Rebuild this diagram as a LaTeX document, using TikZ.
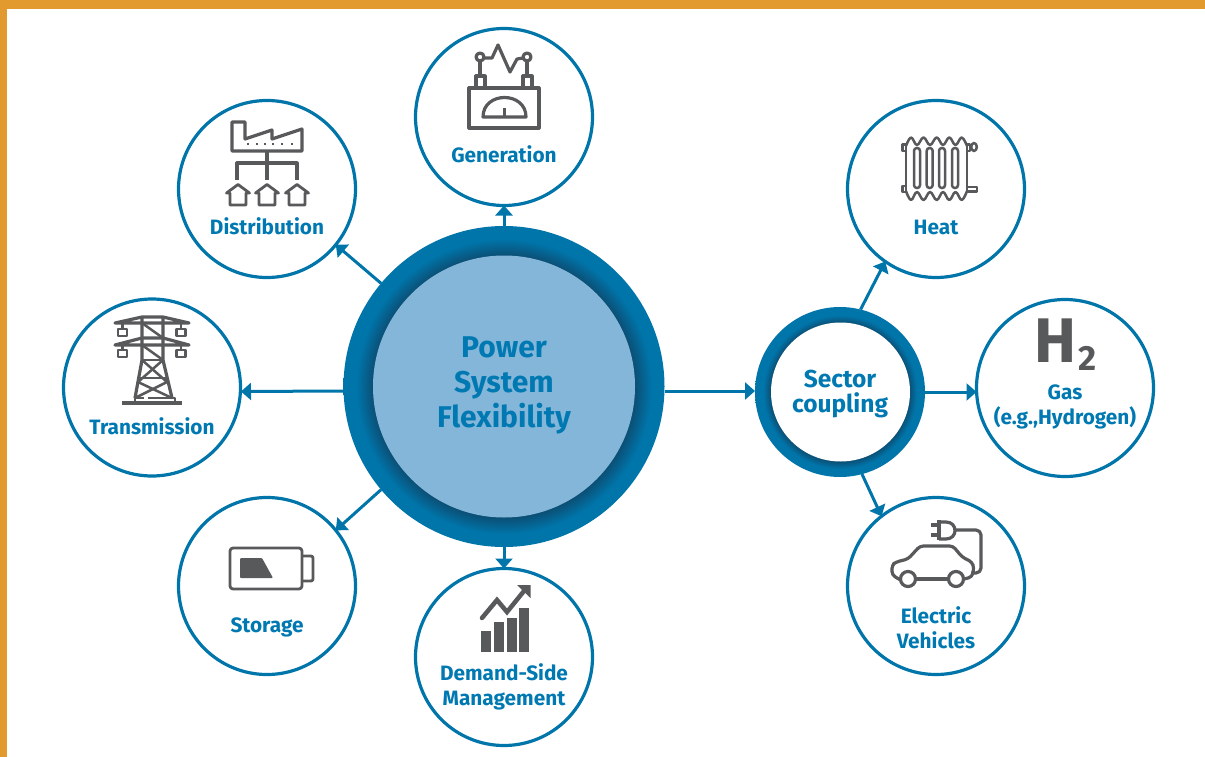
\documentclass[tikz,border=0pt]{standalone}
\usepackage{fontspec}
\setmainfont{Fira Sans}
\usetikzlibrary{arrows.meta}
\definecolor{ringblue}{HTML}{0075AA}
\definecolor{darkblue}{HTML}{0B4F75}
\definecolor{txtblue}{HTML}{0079B2}
\definecolor{paleblue}{HTML}{84B6D9}
\definecolor{band}{HTML}{E29A2F}
\definecolor{icon}{HTML}{58595B}
\pgfdeclareradialshading{mainring}{\pgfpoint{0bp}{0bp}}{color(0bp)=(darkblue);color(20.4bp)=(darkblue);color(23bp)=(ringblue);color(25bp)=(ringblue);color(50bp)=(ringblue)}
\pgfdeclareradialshading{sectorring}{\pgfpoint{0bp}{0bp}}{color(0bp)=(darkblue);color(20.4bp)=(darkblue);color(22.6bp)=(ringblue);color(25bp)=(ringblue);color(50bp)=(ringblue)}
\tikzset{
  topic/.style={circle,draw=ringblue,fill=white,line width=3.2pt,minimum size=177pt,inner sep=0pt,outer sep=0pt},
  lbl/.style={anchor=base,inner sep=0pt,text=txtblue,font=\fontsize{20.8}{24}\selectfont\bfseries},
  biglbl/.style={anchor=base,inner sep=0pt,text=txtblue,font=\fontsize{30}{34}\selectfont\bfseries},
  seclbl/.style={anchor=base,inner sep=0pt,text=txtblue,font=\fontsize{24.5}{28}\selectfont\bfseries},
  arr/.style={draw=ringblue,line width=3pt,-{Triangle[length=10pt,width=17pt]}},
  ic/.style={draw=icon,line width=3.2pt,line join=round},
  icthin/.style={draw=icon,line width=2.5pt,line join=round},
}
\begin{document}
\begin{tikzpicture}[x=1pt,y=-1pt]
\useasboundingbox (0,0) rectangle (1205,757);
\fill[white] (0,0) rectangle (1205,757);
\fill[band] (0,0) rectangle (1205,9);
\fill[band] (0,0) rectangle (7,757);

% hubs
\node[circle,minimum size=321pt,inner sep=0pt,outer sep=0pt,shading=mainring] (main) at (504,386.5) {};
\node[circle,minimum size=262pt,inner sep=0pt,outer sep=0pt,fill=paleblue] (maininner) at (504,386.5) {};
\node[circle,minimum size=170pt,inner sep=0pt,outer sep=0pt,shading=sectorring] (sector) at (840,392) {};
\node[circle,minimum size=139pt,inner sep=0pt,outer sep=0pt,fill=white] (sectorinner) at (840.5,392) {};

% topic circles
\node[topic] (gen) at (504,117) {};
\node[topic] (dist) at (267,189) {};
\node[topic] (trans) at (152,387.5) {};
\node[topic] (stor) at (267,586) {};
\node[topic] (dsm) at (504,657) {};
\node[topic] (heat) at (936,189) {};
\node[topic] (gas) at (1065,388) {};
\node[topic] (ev) at (936,586) {};

% connectors
\draw[arr] (main.90) -- (gen.270);
\draw[arr] (main.140) -- (dist.-39.5);
\draw[arr] ([yshift=-4.5pt]main.west) -- ([xshift=.5pt,yshift=-4pt]trans.east);
\draw[arr] (main.220) -- (stor.39.5);
\draw[arr] (main.270) -- (dsm.90);
\draw[arr] ([yshift=-4.5pt]main.east) -- ([yshift=1pt]sector.west);
\draw[arr] (sector.76) -- (heat.235);
\draw[arr] (sector.east) -- ([yshift=-4pt]gas.west);
\draw[arr] (sector.-75) -- (ev.128);

% labels
\node[biglbl] (t1) at (504,357) {Power};
\node[biglbl] (t2) at (504,392) {System};
\node[biglbl] (t3) at (504,427.5) {Flexibility};
\node[seclbl] (s1) at (840,387) {Sector};
\node[seclbl] (s2) at (840,412) {coupling};
\node[lbl] (l1) at (504,163) {Generation};
\node[lbl] (l2) at (267,234) {Distribution};
\node[lbl] (l3) at (152,434) {Transmission};
\node[lbl] (l4) at (267,632) {Storage};
\node[lbl] (l5) at (504,680) {Demand-Side};
\node[lbl] (l6) at (504,705) {Management};
\node[lbl] (l7) at (936,234) {Heat};
\node[lbl] (l8) at (1065,399) {Gas};
\node[lbl] (l9) at (1065,424) {(e.g.,Hydrogen)};
\node[lbl] (l10) at (936,623) {Electric};
\node[lbl] (l11) at (936,648) {Vehicles};

% Generation icon
\draw[ic] (469,88) rectangle (539,128);
\draw[ic] (483,117) .. controls (483,91) and (526,91) .. (526,117) -- cycle;
\draw[ic] (504.5,117) -- (504.5,108);
\draw[ic] (476,88) -- (476,76) -- (485,76) -- (485,88);
\draw[ic] (523,88) -- (523,76) -- (532,76) -- (532,88);
\draw[ic] (480,57) circle[radius=4];
\draw[ic] (527,57) circle[radius=4];
\draw[ic] (480,61) -- (480,76);
\draw[ic] (527,61) -- (527,76);
\draw[ic] (484,58) -- (492,58) -- (498,45) -- (510,72) -- (517,59) -- (523,58);

% Distribution icon
\draw[ic] (232,122) -- (245,122) -- (245,139) -- (272,130) -- (272,139) -- (302,129) -- (302,151) -- (232,151) -- cycle;
\foreach \dx in {248,257,265,273,282,292} \fill[icon] (\dx-1.4,142.6) rectangle (\dx+1.4,145.4);
\draw[ic] (267,151) -- (267,180);
\draw[ic] (237,180) -- (237,163) -- (297,163) -- (297,180);
\foreach \hx in {238,267,297}
  \draw[icthin,line width=2.8pt] (\hx-11.5,193) -- (\hx,184.5) -- (\hx+11.5,193) -- (\hx+8,193) -- (\hx+8,205) -- (\hx-8,205) -- (\hx-8,193) -- cycle;

% Transmission icon
\draw[ic] (122,403) -- (182,403);
\draw[icthin] (135,403) -- (135,398) -- (144,398);
\draw[icthin] (148,398) -- (175,398) -- (175,403);
\draw[ic] (142,317) -- (142,360) -- (135,398);
\draw[ic] (163,317) -- (163,360) -- (172,398);
\draw[ic] (115,323) -- (142,317) -- (163,317) -- (189,323) -- cycle;
\draw[ic] (115,345) -- (142,338) -- (163,338) -- (189,345) -- cycle;
\draw[icthin] (142,323) -- (163,338);
\draw[icthin] (142,345) -- (163,360);
\draw[icthin] (142,360) -- (167,382) -- (135,398);
\draw[icthin] (163,360) -- (138,382) -- (172,398);
\draw[icthin] (139,378) -- (166,378);
\draw[icthin] (142,360) -- (163,360);
\foreach \ix/\iy in {122.5/329,181/329,122.5/350,181/350}{
  \draw[icthin] (\ix-4.5,\iy) rectangle (\ix+4.5,\iy+7);
  \draw[icthin] (\ix,\iy-5) -- (\ix,\iy);
}

% Storage icon
\draw[icthin,line width=2.8pt,rounded corners=3pt] (230,548) rectangle (302,589);
\draw[icthin,line width=2.8pt,rounded corners=2pt] (302,556) -- (313,556) -- (313,581) -- (302,581);
\fill[icon,rounded corners=1pt] (240,558) -- (262,558) -- (273,578) -- (240,578) -- cycle;

% Demand-side icon
\fill[icon] (481,631) rectangle (491,652);
\fill[icon] (494,622) rectangle (504,652);
\fill[icon] (507,618) rectangle (517,652);
\fill[icon] (519,608) rectangle (529,652);
\draw[icon,line width=4.5pt,line cap=round,line join=miter] (482,618) -- (497,600) -- (507,612) -- (524,591);
\fill[icon] (517,585) -- (530.5,585) -- (530.5,598) -- cycle;

% Heat icon
\draw[icthin] plot[smooth,tension=.7] coordinates {(906,146) (911,137.5) (917,145) (923.5,137.5) (930,145) (936.7,137.5) (943,145) (949.3,137.5) (955.5,145) (961.7,137.5) (967,146)};
\draw[icthin] plot[smooth,tension=.7] coordinates {(906,191) (911,200) (917,192) (923.5,200) (930,192) (936.7,200) (943,192) (949.3,200) (955.5,192) (961.7,200) (967,191)};
\draw[icthin] (906,146) -- (906,191);
\draw[icthin] (967,146) -- (967,191);
\foreach \fx in {914,926.7,939,952}
  \draw[icthin,rounded corners=2.8pt] (\fx,148) rectangle (\fx+6,188);
\draw[icthin] (906,144.5) -- (902.5,144.5) -- (902.5,151) -- (906,151);
\draw[icthin] (906,186) -- (902.5,186) -- (902.5,192) -- (906,192);
\draw[icthin] (967,144.5) -- (970,144.5) -- (970,151) -- (967,151);
\draw[icthin] (974,147) ellipse[x radius=2.8,y radius=4];
\draw[icthin] (967,187) -- (977,187) -- (977,191.5) -- (967,191.5);

% H2 icon
\node[anchor=base,inner sep=0pt,text=icon,font=\fontsize{63}{63}\selectfont\bfseries] (hh) at (1055,362) {H};
\node[anchor=base,inner sep=0pt,text=icon,font=\fontsize{35}{35}\selectfont\bfseries] (h2) at (1088,370) {2};

% EV icon
\draw[ic,rounded corners=3.5pt] (900.5,580) -- (892,575) -- (892,565) -- (896,562) -- (908,559) -- (920,546) -- (953,546) -- (962,557) -- (972,562) -- (974,568) -- (972,577) -- (964,579);
\draw[ic] (948,579) -- (916,579);
\draw[ic] (908,579) circle[radius=7.5];
\draw[ic] (956,579) circle[radius=7.5];
\draw[ic,rounded corners=5pt] (955,530) -- (981,530) -- (981,573) -- (971,573);
\draw[ic] (939,520) -- (939,540);
\draw[ic] (939,522) -- (946,522) .. controls (958,522) and (958,539) .. (946,539) -- (939,539);
\draw[ic] (931,525) -- (939,525);
\draw[ic] (931,535) -- (939,535);
\end{tikzpicture}
\end{document}
